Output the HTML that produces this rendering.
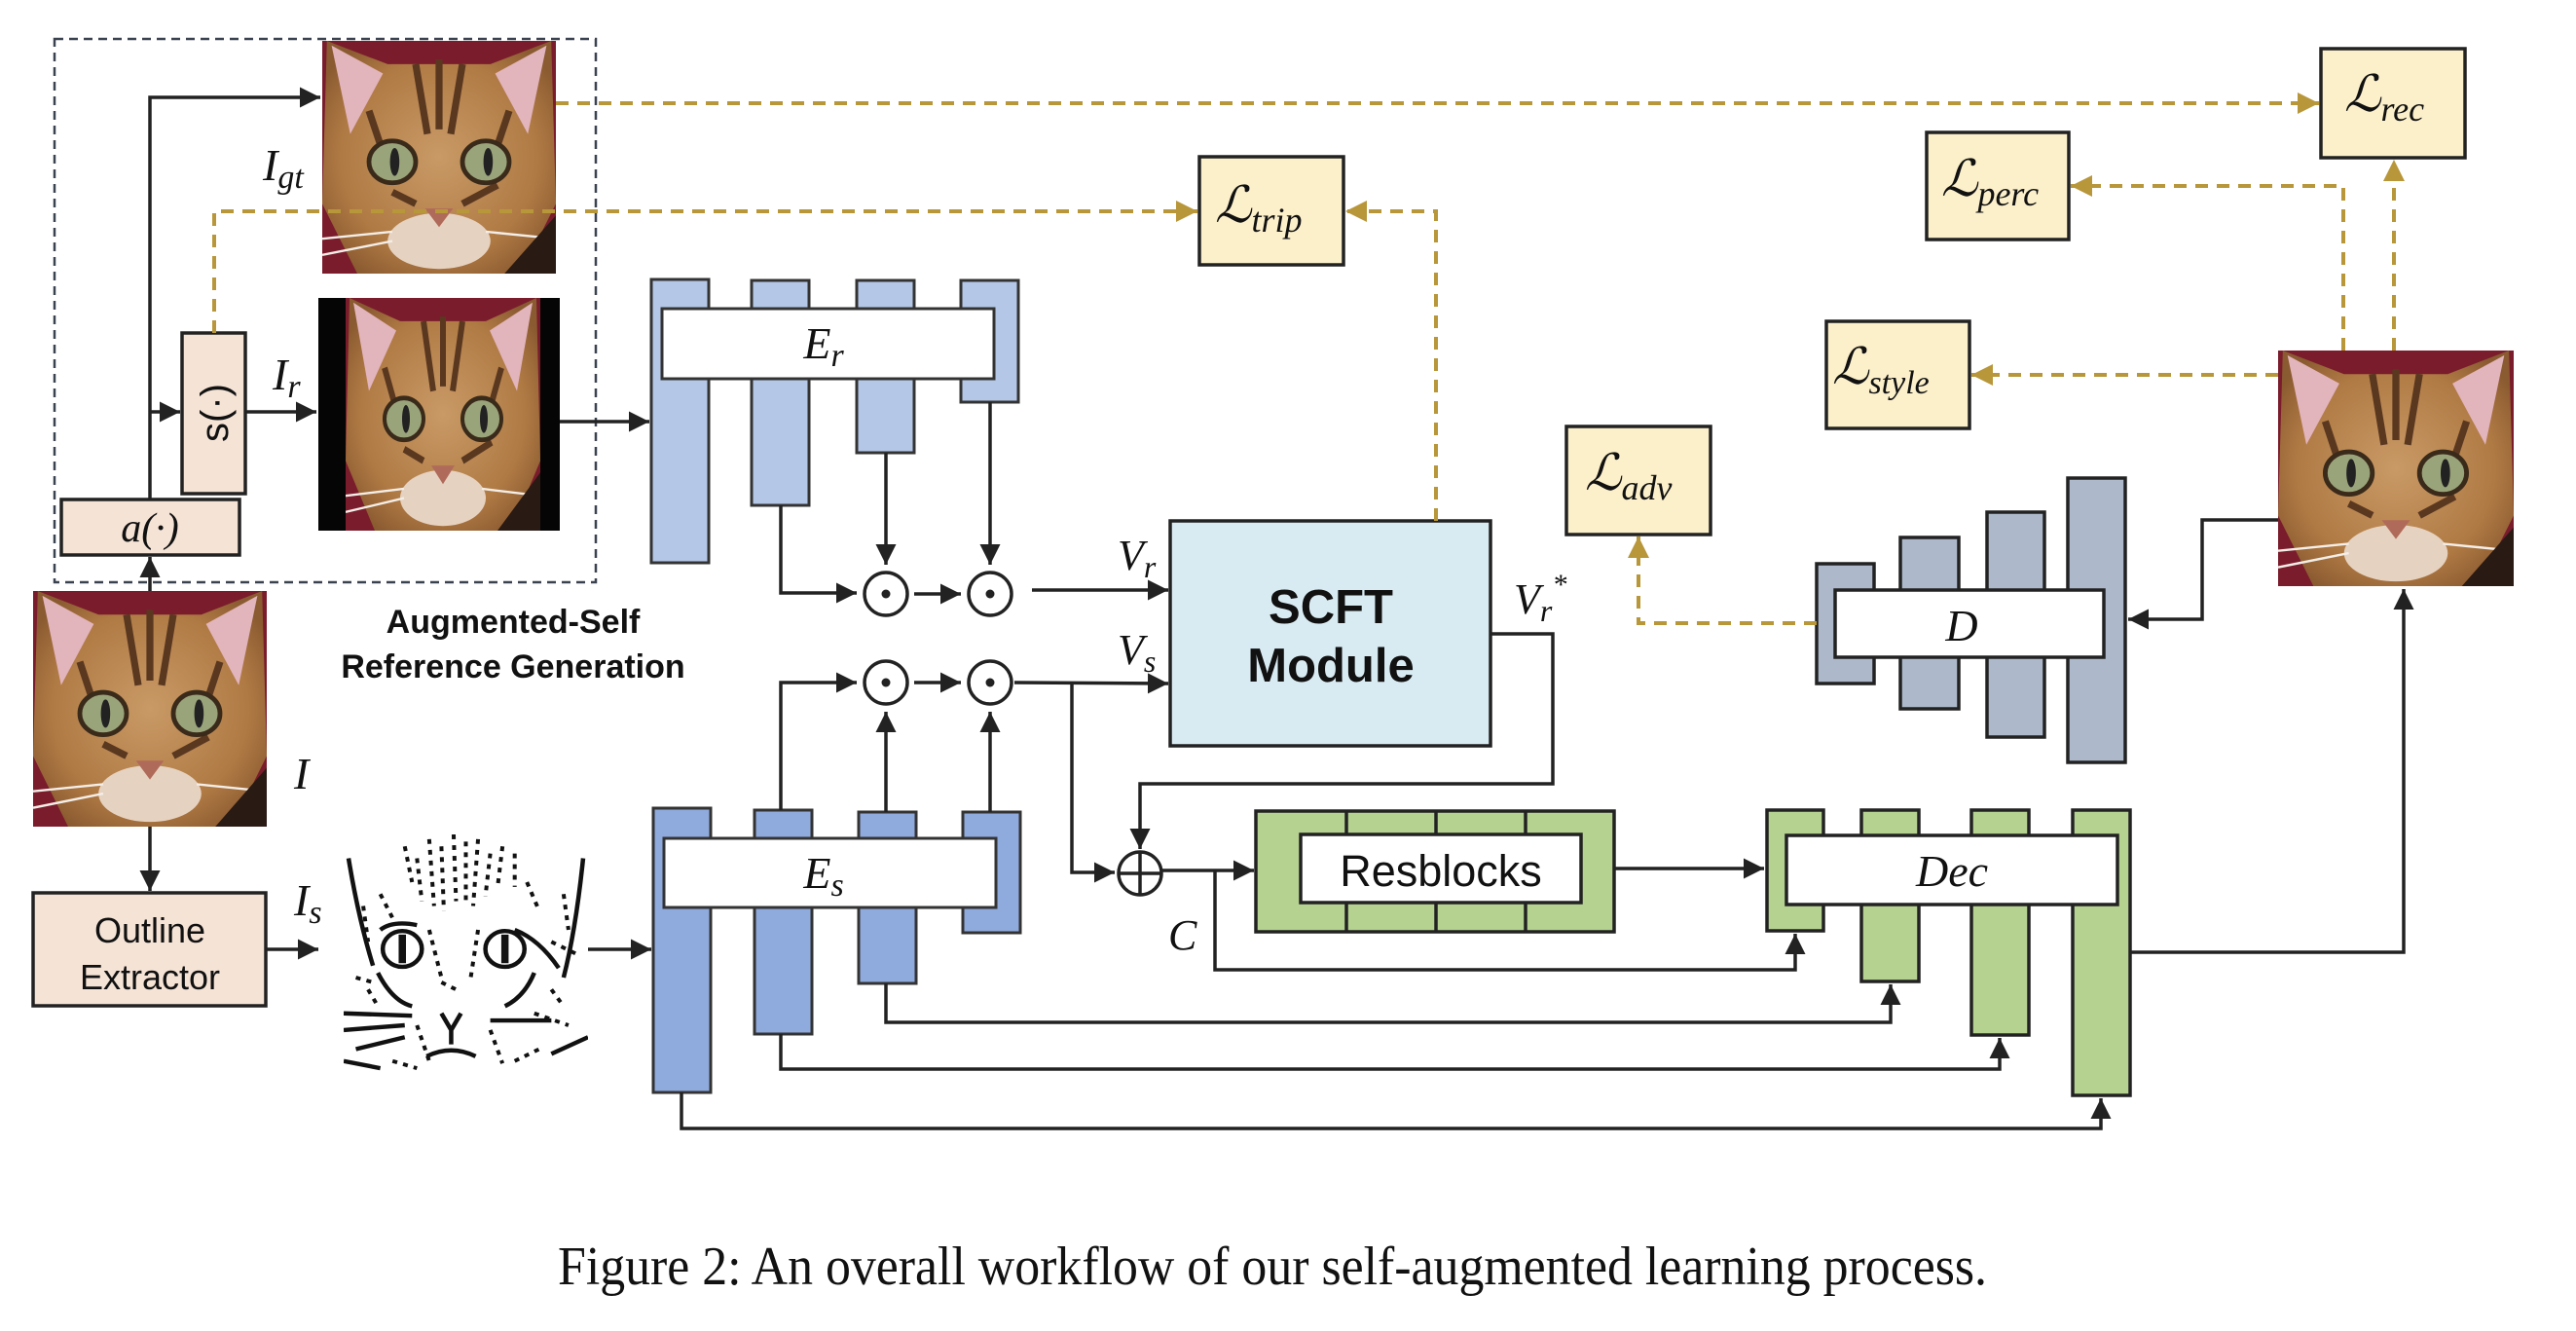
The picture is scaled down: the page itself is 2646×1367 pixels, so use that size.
<!DOCTYPE html>
<html><head><meta charset="utf-8"><style>
html,body{margin:0;padding:0;background:#fff}
svg{display:block}
.m{font-family:"Liberation Serif",serif;font-style:italic;fill:#111}
.sans{font-family:"Liberation Sans",sans-serif;fill:#111}
.k{stroke:#222;stroke-width:3.5;fill:none}
.g{stroke:#b8963a;stroke-width:4;fill:none;stroke-dasharray:13 9}
</style></head><body>
<svg width="2646" height="1367" viewBox="0 0 2646 1367" xmlns="http://www.w3.org/2000/svg">
<defs>
<marker id="ak" viewBox="0 0 10 10" refX="10" refY="5" markerWidth="6" markerHeight="6" markerUnits="strokeWidth" orient="auto"><path d="M0,0L10,5L0,10z" fill="#222"/></marker>
<marker id="ag" viewBox="0 0 10 10" refX="10" refY="5" markerWidth="5.5" markerHeight="6" markerUnits="strokeWidth" orient="auto"><path d="M0,0L10,5L0,10z" fill="#b8963a"/></marker>
<radialGradient id="fur" cx="50%" cy="50%" r="60%"><stop offset="0" stop-color="#c99a66"/><stop offset="0.7" stop-color="#b07a44"/><stop offset="1" stop-color="#8a5a30"/></radialGradient>
<symbol id="cat" viewBox="0 0 100 100" preserveAspectRatio="none">
<rect width="100" height="100" fill="#7a1c2c"/>
<path d="M2,0 L28,10 L72,10 L98,0 L100,70 L85,100 L15,100 L0,70z" fill="url(#fur)"/>
<path d="M4,2 L26,14 L12,40z" fill="#e2b4bc"/><path d="M96,2 L74,14 L88,40z" fill="#e2b4bc"/>
<path d="M40,10 L45,40 M50,8 L50,38 M60,10 L55,40 M20,30 L25,45 M80,30 L75,45 M30,65 L40,70 M60,70 L75,62" stroke="#5a3820" stroke-width="3"/>
<ellipse cx="30" cy="52" rx="10" ry="9" fill="#9aa47a" stroke="#3a2a1a" stroke-width="2"/>
<ellipse cx="70" cy="52" rx="10" ry="9" fill="#9aa47a" stroke="#3a2a1a" stroke-width="2"/>
<ellipse cx="31" cy="52" rx="2" ry="6" fill="#222"/><ellipse cx="71" cy="52" rx="2" ry="6" fill="#222"/>
<ellipse cx="50" cy="86" rx="22" ry="12" fill="#e6d2c0"/>
<path d="M44,72 L56,72 L50,80z" fill="#b06a5a"/>
<path d="M0,85 L30,82 M0,92 L30,86 M100,85 L70,82" stroke="#f4eee8" stroke-width="1"/>
<path d="M78,100 L100,75 L100,100z" fill="#2a1a14"/>
</symbol>
<symbol id="sk" viewBox="0 0 100 100" preserveAspectRatio="none">
<rect width="100" height="100" fill="#fff"/>
<g fill="none" stroke="#111" stroke-width="1.8">
<path d="M2,10 Q6,35 12,55 M98,10 Q95,40 90,60"/>
<ellipse cx="24" cy="48" rx="8" ry="7.5"/><ellipse cx="66" cy="48" rx="8" ry="7.5"/>
<path d="M24,42 L24,54 M66,42 L66,54" stroke-width="3"/>
<path d="M40,75 L44,82 L48,75 M44,82 L44,88 M34,93 Q44,88 54,93"/>
<path d="M0,75 L28,76 M0,82 L25,80 M60,78 L85,78 M5,90 L25,85 M14,58 Q20,70 28,72 M78,58 Q74,68 66,72 M70,40 Q80,44 88,56 M15,40 Q20,36 30,38 M0,95 L15,98 M85,92 L100,85"/>
</g>
<g fill="none" stroke="#111" stroke-width="1.6" stroke-dasharray="2 2.5">
<path d="M35,2 L37,30 M45,0 L46,28 M55,2 L53,30 M30,10 L32,28 M60,8 L58,26 M40,5 L41,32 M50,3 L50,30 M65,5 L63,22 M25,5 L28,20 M70,8 L70,22"/>
<path d="M15,25 L20,35 M75,20 L80,32 M10,65 L14,72 M85,65 L90,72 M20,95 L30,98 M70,95 L80,90 M35,40 L40,60 M55,40 L52,60 M8,30 L10,45 M90,25 L92,40 M30,80 L35,95 M60,82 L65,96 M78,75 L92,80 M5,60 L12,62 M40,62 L48,66 M85,45 L95,50"/>
</g>
</symbol>
</defs>

<rect x="56" y="40" width="556" height="558" fill="none" stroke="#3a4250" stroke-width="2.5" stroke-dasharray="9 6"/>

<use href="#cat" x="331" y="42" width="240" height="239"/>
<rect x="327" y="306" width="248" height="239" fill="#050505"/>
<use href="#cat" x="355" y="306" width="200" height="239"/>
<use href="#cat" x="34" y="607" width="240" height="242"/>
<use href="#sk" x="353" y="857" width="251" height="245"/>
<use href="#cat" x="2340" y="360" width="242" height="242"/>

<rect x="63" y="513" width="183" height="57" fill="#f5e3d6" stroke="#222" stroke-width="3.5"/>
<text x="154" y="556" text-anchor="middle" class="m" font-size="42">a(·)</text>
<rect x="187" y="342" width="65" height="165" fill="#f5e3d6" stroke="#222" stroke-width="3.5"/>
<text transform="translate(234,424) rotate(-90)" text-anchor="middle" class="sans" font-size="40">s(·)</text>
<rect x="34" y="917" width="239" height="116" fill="#f5e3d6" stroke="#222" stroke-width="3.5"/>
<text x="154" y="968" text-anchor="middle" class="sans" font-size="36">Outline</text>
<text x="154" y="1016" text-anchor="middle" class="sans" font-size="36">Extractor</text>

<path class="k" d="M154,607 L154,572" marker-end="url(#ak)"/>
<path class="k" d="M154,513 L154,100 L329,100" marker-end="url(#ak)"/>
<path class="k" d="M154,423 L185,423" marker-end="url(#ak)"/>
<path class="k" d="M252,423 L325,423" marker-end="url(#ak)"/>
<path class="k" d="M154,849 L154,915" marker-end="url(#ak)"/>
<path class="k" d="M273,975 L327,975" marker-end="url(#ak)"/>
<path class="k" d="M575,433 L667,433" marker-end="url(#ak)"/>
<path class="k" d="M604,975 L669,975" marker-end="url(#ak)"/>

<text x="270" y="185" class="m" font-size="46">I<tspan font-size="34" dy="8">gt</tspan></text>
<text x="280" y="400" class="m" font-size="46">I<tspan font-size="34" dy="8">r</tspan></text>
<text x="302" y="810" class="m" font-size="46">I</text>
<text x="302" y="940" class="m" font-size="46">I<tspan font-size="34" dy="8">s</tspan></text>
<text x="527" y="650" text-anchor="middle" class="sans" font-size="34" font-weight="bold">Augmented-Self</text>
<text x="527" y="696" text-anchor="middle" class="sans" font-size="34" font-weight="bold">Reference Generation</text>

<g fill="#b4c7e7" stroke="#333" stroke-width="3">
<rect x="669" y="287" width="59" height="291"/><rect x="772" y="288" width="59" height="231"/>
<rect x="880" y="288" width="59" height="177"/><rect x="987" y="288" width="59" height="125"/>
</g>
<rect x="680" y="317" width="341" height="72" fill="#fff" stroke="#333" stroke-width="3"/>
<text x="846" y="368" text-anchor="middle" class="m" font-size="46">E<tspan font-size="34" dy="8">r</tspan></text>
<g fill="#8faadc" stroke="#333" stroke-width="3">
<rect x="671" y="830" width="59" height="292"/><rect x="775" y="832" width="59" height="230"/>
<rect x="882" y="834" width="59" height="176"/><rect x="989" y="834" width="59" height="124"/>
</g>
<rect x="682" y="861" width="341" height="71" fill="#fff" stroke="#333" stroke-width="3"/>
<text x="846" y="912" text-anchor="middle" class="m" font-size="46">E<tspan font-size="34" dy="8">s</tspan></text>

<g stroke="#222" stroke-width="3.5" fill="none">
<circle cx="910" cy="610" r="22"/><circle cx="1017" cy="610" r="22"/>
<circle cx="910" cy="701" r="22"/><circle cx="1017" cy="701" r="22"/>
</g>
<g fill="#222"><circle cx="910" cy="610" r="4.5"/><circle cx="1017" cy="610" r="4.5"/><circle cx="910" cy="701" r="4.5"/><circle cx="1017" cy="701" r="4.5"/></g>
<path class="k" d="M939,610 L987,610" marker-end="url(#ak)"/>
<path class="k" d="M939,701 L987,701" marker-end="url(#ak)"/>
<path class="k" d="M802,519 L802,609 L880,609" marker-end="url(#ak)"/>
<path class="k" d="M910,465 L910,580" marker-end="url(#ak)"/>
<path class="k" d="M1017,413 L1017,580" marker-end="url(#ak)"/>
<path class="k" d="M802,832 L802,701 L880,701" marker-end="url(#ak)"/>
<path class="k" d="M910,834 L910,731" marker-end="url(#ak)"/>
<path class="k" d="M1017,834 L1017,731" marker-end="url(#ak)"/>
<path class="k" d="M1060,606 L1200,606" marker-end="url(#ak)"/>
<path class="k" d="M1042,701 L1200,702" marker-end="url(#ak)"/>
<path class="k" d="M1101,701 L1101,896 L1145,896" marker-end="url(#ak)"/>
<text x="1148" y="585" class="m" font-size="44">V<tspan font-size="32" dy="8">r</tspan></text>
<text x="1148" y="682" class="m" font-size="44">V<tspan font-size="32" dy="8">s</tspan></text>

<rect x="1202" y="535" width="329" height="231" fill="#d9ebf2" stroke="#222" stroke-width="3.5"/>
<text x="1367" y="640" text-anchor="middle" class="sans" font-size="49" font-weight="bold">SCFT</text>
<text x="1367" y="700" text-anchor="middle" class="sans" font-size="49" font-weight="bold">Module</text>
<text x="1555" y="630" class="m" font-size="44">V<tspan font-size="32" dy="8">r</tspan><tspan font-size="30" dy="-28">*</tspan></text>
<path class="k" d="M1531,651 L1595,651 L1595,805 L1171,805 L1171,872" marker-end="url(#ak)"/>

<circle cx="1171" cy="897" r="22" fill="none" stroke="#222" stroke-width="3.5"/>
<path class="k" d="M1149,897 L1193,897 M1171,875 L1171,919"/>
<text x="1200" y="975" class="m" font-size="44">C</text>
<path class="k" d="M1193,894 L1288,894" marker-end="url(#ak)"/>
<path class="k" d="M1248,894 L1248,996 L1844,996 L1844,959" marker-end="url(#ak)"/>

<rect x="1290" y="833" width="368" height="124" fill="#b6d291" stroke="#222" stroke-width="3.5"/>
<path class="k" d="M1383,833 L1383,957 M1475,833 L1475,957 M1567,833 L1567,957"/>
<rect x="1336" y="857" width="288" height="70" fill="#fff" stroke="#222" stroke-width="3.5"/>
<text x="1480" y="910" text-anchor="middle" class="sans" font-size="45">Resblocks</text>
<path class="k" d="M1658,892 L1812,892" marker-end="url(#ak)"/>

<g fill="#b6d291" stroke="#222" stroke-width="3.5">
<rect x="1815" y="832" width="58" height="124"/><rect x="1912" y="832" width="59" height="176"/>
<rect x="2025" y="832" width="59" height="231"/><rect x="2129" y="832" width="59" height="293"/>
</g>
<rect x="1835" y="858" width="340" height="71" fill="#fff" stroke="#222" stroke-width="3.5"/>
<text x="2005" y="910" text-anchor="middle" class="m" font-size="46">Dec</text>

<path class="k" d="M910,1010 L910,1050 L1942,1050 L1942,1011" marker-end="url(#ak)"/>
<path class="k" d="M802,1062 L802,1098 L2054,1098 L2054,1066" marker-end="url(#ak)"/>
<path class="k" d="M700,1122 L700,1159 L2158,1159 L2158,1128" marker-end="url(#ak)"/>
<path class="k" d="M2188,978 L2469,978 L2469,605" marker-end="url(#ak)"/>

<g fill="#adb9ca" stroke="#222" stroke-width="3.5">
<rect x="1866" y="579" width="59" height="123"/><rect x="1952" y="552" width="60" height="176"/>
<rect x="2041" y="526" width="59" height="231"/><rect x="2124" y="491" width="59" height="292"/>
</g>
<rect x="1885" y="606" width="276" height="69" fill="#fff" stroke="#222" stroke-width="3.5"/>
<text x="2015" y="658" text-anchor="middle" class="m" font-size="46">D</text>
<path class="k" d="M2340,534 L2262,534 L2262,636 L2186,636" marker-end="url(#ak)"/>

<g fill="#fcf0cb" stroke="#222" stroke-width="3.5">
<rect x="1232" y="161" width="148" height="111"/>
<rect x="1609" y="438" width="148" height="111"/>
<rect x="1876" y="330" width="147" height="110"/>
<rect x="1979" y="136" width="146" height="110"/>
<rect x="2384" y="50" width="148" height="112"/>
</g>
<text x="1248" y="228" class="m" font-size="52">ℒ<tspan font-size="36" dy="10">trip</tspan></text>
<text x="1628" y="503" class="m" font-size="52">ℒ<tspan font-size="36" dy="10">adv</tspan></text>
<text x="1882" y="394" class="m" font-size="52">ℒ<tspan font-size="34" dy="10">style</tspan></text>
<text x="1994" y="201" class="m" font-size="52">ℒ<tspan font-size="36" dy="10">perc</tspan></text>
<text x="2408" y="114" class="m" font-size="52">ℒ<tspan font-size="36" dy="10">rec</tspan></text>

<path class="g" d="M571,106 L2382,106" marker-end="url(#ag)"/>
<path class="g" d="M220,342 L220,217 L1230,217" marker-end="url(#ag)"/>
<path class="g" d="M1475,535 L1475,217 L1382,217" marker-end="url(#ag)"/>
<path class="g" d="M1866,640 L1683,640 L1683,551" marker-end="url(#ag)"/>
<path class="g" d="M2340,385 L2025,385" marker-end="url(#ag)"/>
<path class="g" d="M2407,360 L2407,191 L2127,191" marker-end="url(#ag)"/>
<path class="g" d="M2459,360 L2459,164" marker-end="url(#ag)"/>

<text x="573" y="1319" textLength="1468" lengthAdjust="spacingAndGlyphs" font-family="'Liberation Serif',serif" font-size="56" fill="#111">Figure 2: An overall workflow of our self-augmented learning process.</text>
</svg>
</body></html>
